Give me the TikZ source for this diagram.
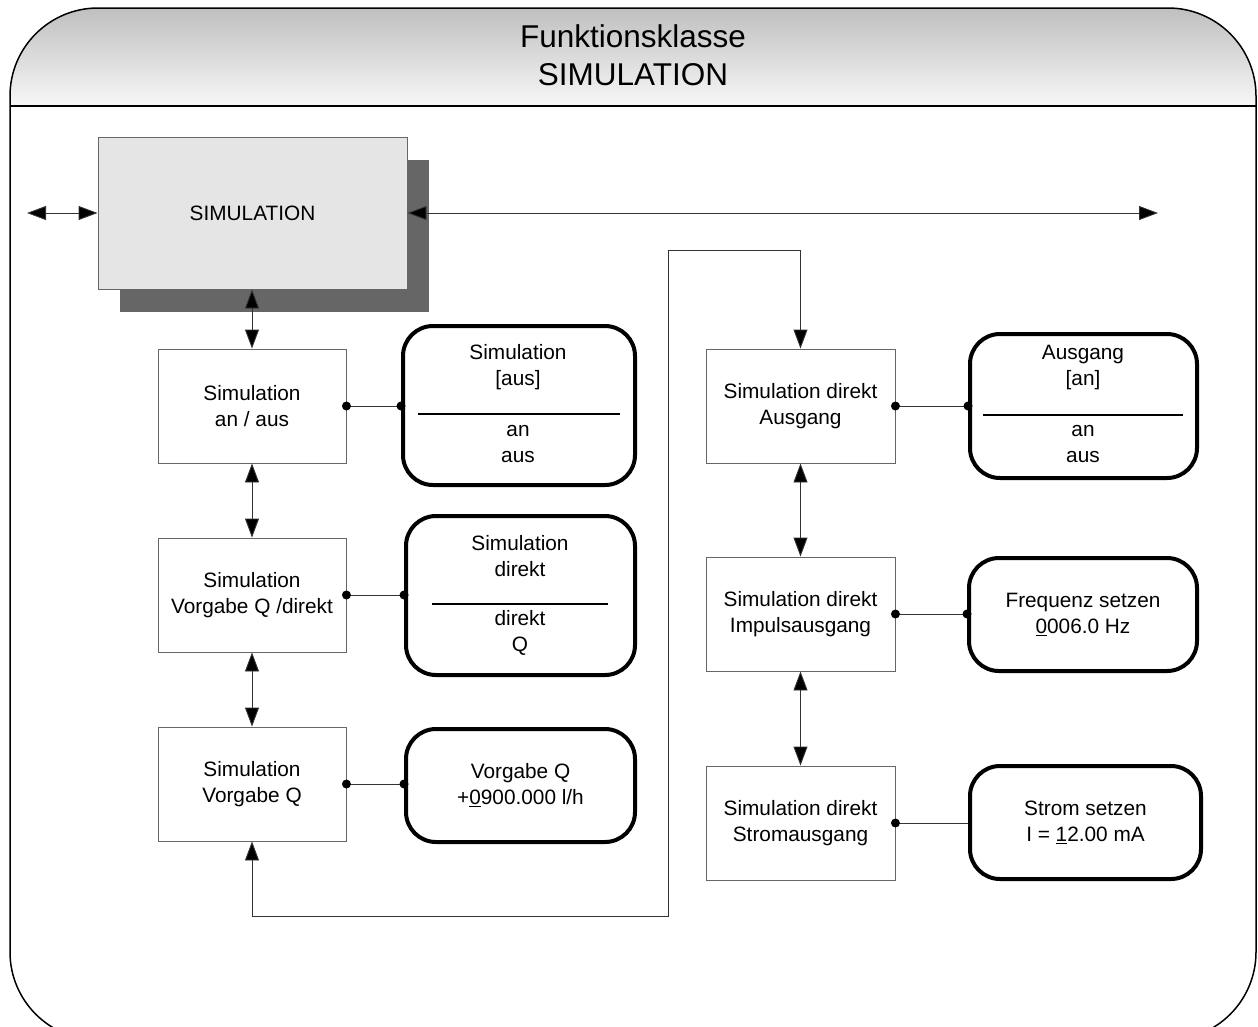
\documentclass[tikz,border=0pt]{standalone}
\usepackage{fontspec}
\setmainfont{Liberation Sans}
\usetikzlibrary{arrows.meta,calc}
\begin{document}
\begin{tikzpicture}[x=1pt,y=-1pt,
  every node/.style={font=\fontsize{20.8}{26}\selectfont, text=black, inner sep=0pt},
  sq/.style={draw=black!60, line width=0.9pt, fill=white, minimum width=188pt, minimum height=114pt, align=center},
  rb/.style={draw=black, line width=4pt, rounded corners=30pt, fill=white, align=center},
  txt/.style={align=center},
  conn/.style={draw=black!80, line width=0.9pt},
  dot/.style={fill=black},
  >={Triangle[length=19pt,width=14pt,fill=black]}
]
\useasboundingbox (0,0) rectangle (1258,1026);
% outer frame with header
\begin{scope}
  \clip[rounded corners=88pt] (10,8) rectangle (1256,1040);
  \shade[top color=black!25, bottom color=black!3] (10,8) rectangle (1256,106);
\end{scope}
\draw[line width=1.5pt, rounded corners=88pt] (10,8) rectangle (1256,1040);
\draw[line width=1.5pt] (10,106) -- (1256,106);
\node[font=\fontsize{31.5}{38}\selectfont, align=center] (title) at (633,55) {Funktionsklasse\\SIMULATION};

% SIMULATION box with shadow
\node[fill=black!60, minimum width=309pt, minimum height=152pt] (simsh) at (274.5,236) {};
\node[draw=black!60, line width=0.9pt, fill=black!10, minimum width=309pt, minimum height=152pt] (sim) at (252.5,213) {SIMULATION};
\coordinate (lend) at (27,213);
\coordinate (rend) at (1158,213);

% left column
\node[sq] (b1) at (252,406) {Simulation\\an / aus};
\node[sq] (b2) at (252,595) {Simulation\\Vorgabe Q /direkt};
\node[sq] (b3) at (252,784) {Simulation\\Vorgabe Q};

% right column
\node[sq, minimum width=189pt] (b4) at (800.5,406) {Simulation direkt\\Ausgang};
\node[sq, minimum width=189pt] (b5) at (800.5,614) {Simulation direkt\\Impulsausgang};
\node[sq, minimum width=189pt] (b6) at (800.5,823) {Simulation direkt\\Stromausgang};

% rounded parameter boxes
\node[rb, minimum width=232pt, minimum height=159pt] (r1) at (519,405.5) {};
\node[txt] (r1a) at (518,367) {Simulation\\{[aus]}};
\node[txt] (r1b) at (518,444) {an\\aus};
\draw[line width=1.2pt] (418,414) -- (620,414);

\node[rb, minimum width=229pt, minimum height=159pt] (r2) at (520.5,595.5) {};
\node[txt] (r2a) at (520,556) {Simulation\\direkt};
\node[txt] (r2b) at (520,633) {direkt\\Q};
\draw[line width=1.2pt] (432,604) -- (608,604);

\node[rb, minimum width=229pt, minimum height=113pt] (r3) at (520.5,785.5) {Vorgabe Q\\+\underline{0}900.000 l/h};

\node[rb, minimum width=227pt, minimum height=144pt] (r4) at (1083.5,406) {};
\node[txt] (r4a) at (1083,367) {Ausgang\\{[an]}};
\node[txt] (r4b) at (1083,444) {an\\aus};
\draw[line width=1.2pt] (983,415) -- (1183,415);

\node[rb, minimum width=228pt, minimum height=113pt] (r5) at (1083,614.5) {Frequenz setzen\\\underline{0}006.0 Hz};
\node[rb, minimum width=231pt, minimum height=113pt] (r6) at (1085.5,822.5) {Strom setzen\\I = \underline{1}2.00 mA};

% connectors
\draw[conn,<->] (lend) -- (sim.west);
\draw[conn,<->] (sim.east) -- (rend);
\draw[conn,<->] (b1.north |- sim.south) -- (b1.north);
\draw[conn,<->] (b1.south) -- (b2.north);
\draw[conn,<->] (b2.south) -- (b3.north);
\draw[conn,<->] (b4.south) -- (b5.north);
\draw[conn,<->] (b5.south) -- (b6.north);
\coordinate (lp1) at (668,916);
\coordinate (lp2) at (668,250);
\draw[conn,<->] (b3.south) |- (lp1) -- (lp2) -| (b4.north);

% links to parameter boxes
\draw[conn] (b1.east) -- (b1.east -| r1.west);
\fill[dot] (b1.east) circle[radius=4.5pt] (b1.east -| r1.west) circle[radius=4.5pt];
\draw[conn] (b2.east) -- (b2.east -| r2.west);
\fill[dot] (b2.east) circle[radius=4.5pt] (b2.east -| r2.west) circle[radius=4.5pt];
\draw[conn] (b3.east) -- (b3.east -| r3.west);
\fill[dot] (b3.east) circle[radius=4.5pt] (b3.east -| r3.west) circle[radius=4.5pt];
\draw[conn] (b4.east) -- (b4.east -| r4.west);
\fill[dot] (b4.east) circle[radius=4.5pt] (b4.east -| r4.west) circle[radius=4.5pt];
\draw[conn] (b5.east) -- (b5.east -| r5.west);
\fill[dot] (b5.east) circle[radius=4.5pt] (b5.east -| r5.west) circle[radius=4.5pt];
\draw[conn] (b6.east) -- (b6.east -| r6.west);
\fill[dot] (b6.east) circle[radius=4.5pt];
\end{tikzpicture}
\end{document}
